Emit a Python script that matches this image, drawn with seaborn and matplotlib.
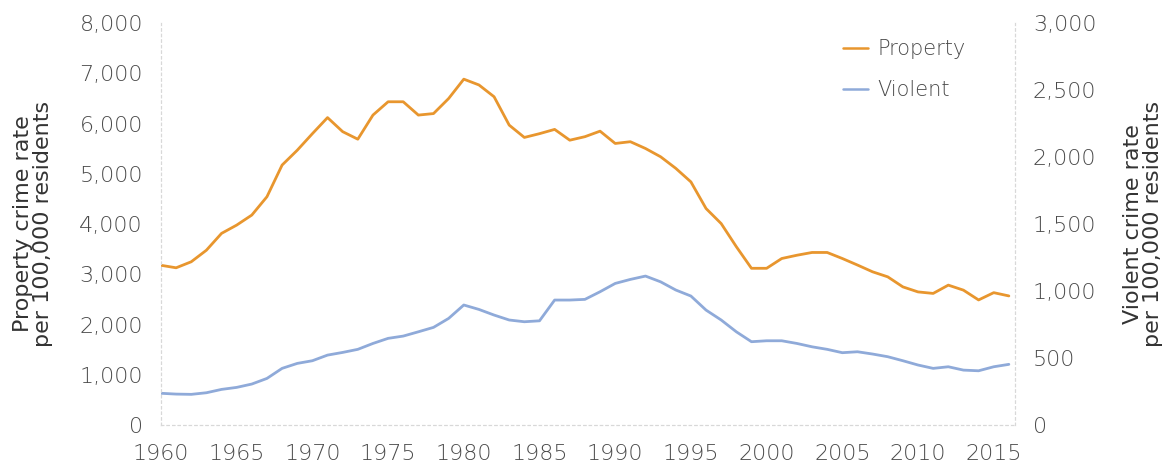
import matplotlib
matplotlib.use("Agg")
import matplotlib.pyplot as plt
import seaborn as sns
import pandas as pd
from matplotlib.lines import Line2D

years = list(range(1960, 2017))
property_rate = [3180, 3130, 3250, 3480, 3815, 3980, 4180, 4545, 5175, 5470,
                 5800, 6120, 5840, 5690, 6170, 6435, 6435, 6170, 6200, 6500,
                 6885, 6770, 6535, 5970, 5725, 5800, 5885, 5670, 5740, 5850,
                 5605, 5640, 5505, 5340, 5110, 4840, 4310, 4010, 3550, 3120,
                 3120, 3315, 3380, 3435, 3435, 3315, 3185, 3050, 2950, 2750,
                 2650, 2620, 2785, 2685, 2490, 2635, 2570]
violent_rate = [237, 231, 229, 241, 266, 281, 306, 348, 423, 460,
                480, 522, 542, 565, 609, 647, 664, 696, 729, 796,
                896, 863, 821, 784, 771, 778, 933, 933, 938, 995,
                1057, 1087, 1112, 1069, 1008, 963, 858, 784, 696, 622,
                629, 629, 609, 584, 565, 540, 547, 530, 510, 480,
                448, 423, 435, 410, 405, 435, 453]
left_ticks = [0, 1000, 2000, 3000, 4000, 5000, 6000, 7000, 8000]
right_ticks = [0, 500, 1000, 1500, 2000, 2500, 3000]
x_ticks = [1960, 1965, 1970, 1975, 1980, 1985, 1990, 1995, 2000, 2005, 2010, 2015]

df = pd.DataFrame({"year": years, "property": property_rate, "violent": violent_rate})

sns.set_style("white")
plt.rcParams['font.family'] = ['DejaVu Sans']
plt.rcParams['font.weight'] = 'light'

ORANGE = "#E8962E"
BLUE = "#8FAAD9"
TXT = "#4a4a4a"
SPINE = "#D8D8D8"

fig = plt.figure(figsize=(11.69, 4.63), dpi=100)
ax = fig.add_axes([0.1377, 0.082, 0.7305, 0.868])
ax2 = ax.twinx()

sns.lineplot(data=df, x="year", y="property", ax=ax, color=ORANGE, linewidth=2)
sns.lineplot(data=df, x="year", y="violent", ax=ax2, color=BLUE, linewidth=2)

ax.set_xlim(1960, 2016.4)
ax.set_ylim(0, 8000)
ax2.set_ylim(0, 3000)
ax.set_xticks(x_ticks)
ax.set_xticklabels([str(t) for t in x_ticks])
ax.set_yticks(left_ticks)
ax.set_yticklabels([f"{t:,}" for t in left_ticks])
ax2.set_yticks(right_ticks)
ax2.set_yticklabels([f"{t:,}" for t in right_ticks])

for a in (ax, ax2):
    a.tick_params(axis="both", length=0, labelsize=16, labelcolor=TXT)
    for s in a.spines.values():
        s.set_color(SPINE)
        s.set_linestyle((0, (2, 3)))
        s.set_linewidth(0.8)
    a.spines["top"].set_visible(False)
ax.tick_params(axis="x", pad=14)
ax.tick_params(axis="y", pad=13)
ax2.tick_params(axis="y", pad=13)

ax.set_xlabel("")
ax.set_ylabel("Property crime rate\nper 100,000 residents", fontsize=16, color="#333333",
              linespacing=1.0)
ax.yaxis.set_label_coords(-0.127, 0.5)
ax2.set_ylabel("Violent crime rate\nper 100,000 residents", fontsize=16, color="#333333",
               linespacing=1.0, rotation=90)
ax2.yaxis.set_label_coords(1.126, 0.5)

handles = [Line2D([0], [0], color=ORANGE, lw=1.8), Line2D([0], [0], color=BLUE, lw=1.8)]
ax.legend(handles, ["Property", "Violent"], loc="upper left", bbox_to_anchor=(0.7986, 0.96),
          borderaxespad=0, borderpad=0, frameon=False, fontsize=15, labelcolor=TXT,
          handlelength=1.2, handletextpad=0.45, labelspacing=1.0)

fig.savefig("out.png", dpi=100)
